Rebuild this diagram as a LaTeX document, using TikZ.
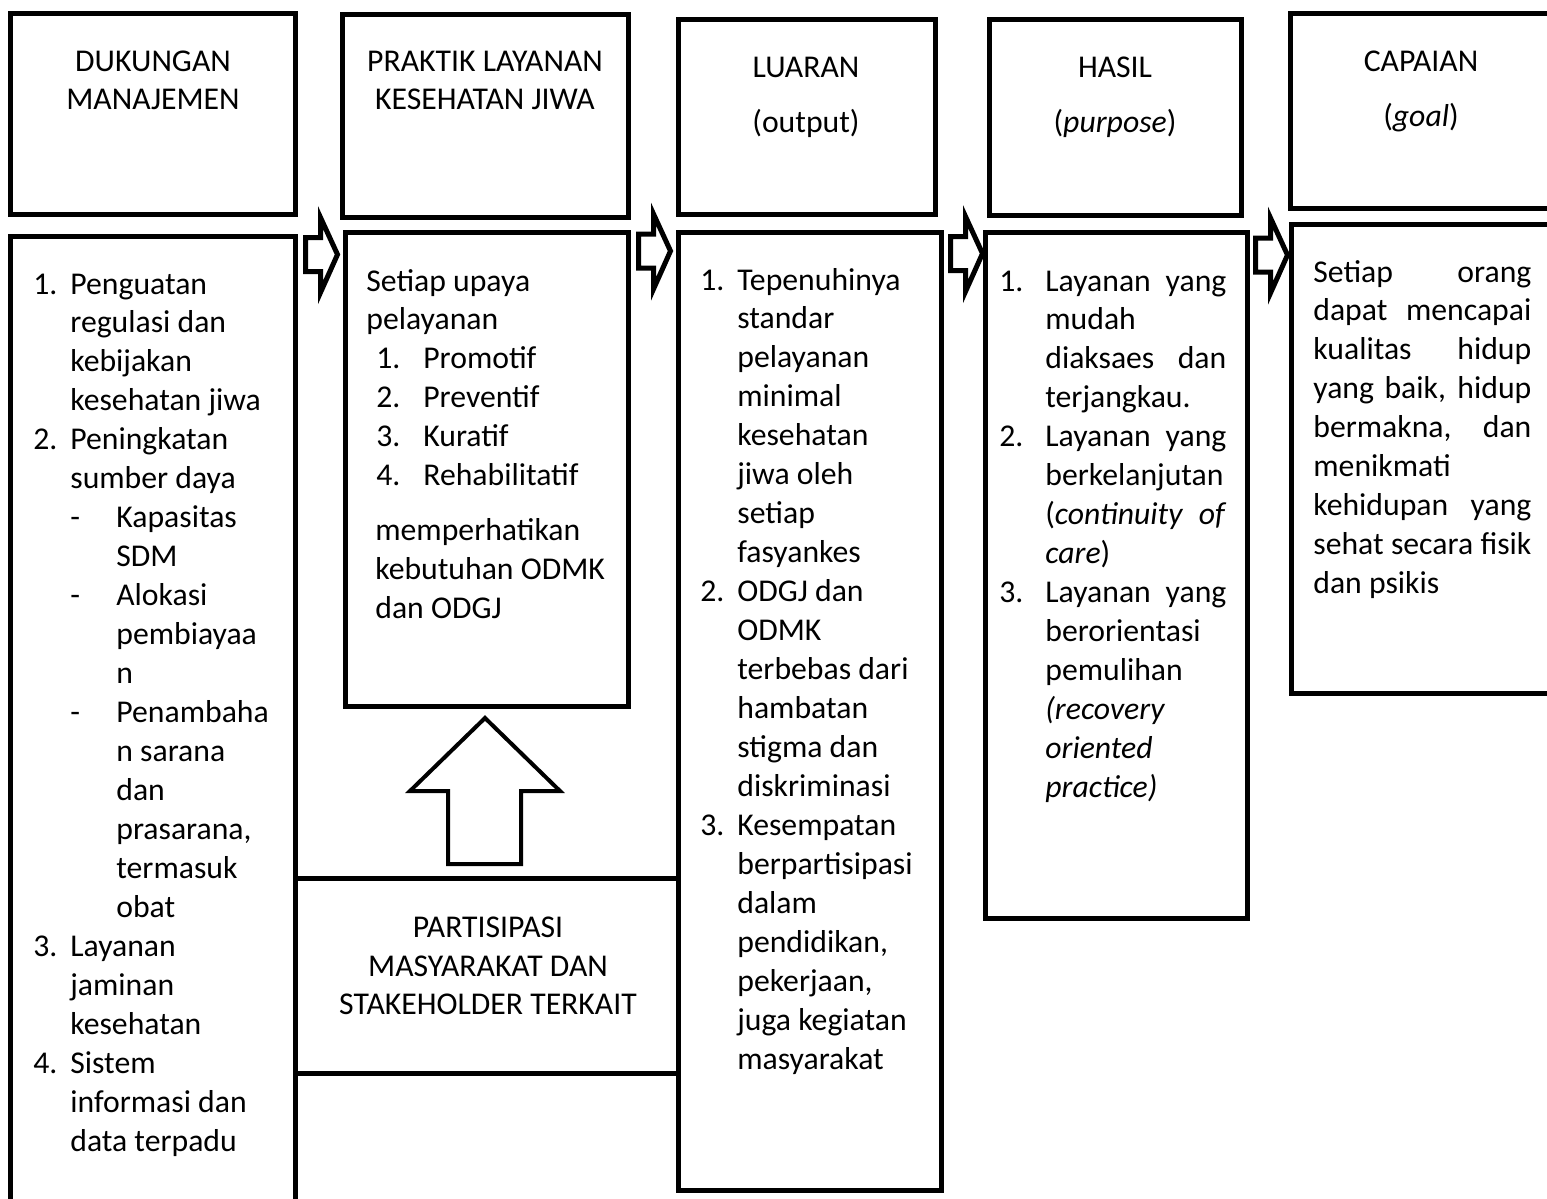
\documentclass[tikz,border=0pt]{standalone}
\usepackage{fontspec}
\setmainfont{Carlito}
\usetikzlibrary{fit}
\newlength{\pks}\setlength{\pks}{0.02cm}
\newcommand{\rata}[2]{\makebox[#1\pks][s]{#2}}
\newcommand{\teksfont}{\fontsize{18.05}{22.19}\selectfont}

\begin{document}
\begin{tikzpicture}[x=0.02cm, y=-0.02cm,
  kotak/.style={draw, line width=0.1cm, fill=white, inner sep=0pt},
  teks/.style={inner sep=0pt, font=\teksfont},
  garis/.style={draw, line width=0.1cm, fill=white}]
\newcommand{\blokpanah}[1]{\draw[garis] (#1) ++(0,-17) -- ++(15,0) -- ++(0,-20)
  -- ++(17,37) -- ++(-17,38) -- ++(0,-21) -- ++(-15,0) -- cycle;}
\useasboundingbox (0,0) rectangle (1547,1198);
\clip (0,0) rectangle (1547,1198);

% kotak judul
\node[kotak, fit={(10.7,13.5) (295,214.5)}] (dukungan) {};
\node[kotak, fit={(342.5,14.5) (628,217.5)}] (praktik) {};
\node[kotak, fit={(678,19.5) (935,214.5)}] (luaran) {};
\node[kotak, fit={(989,19) (1241,215)}] (hasil) {};
\node[kotak, fit={(1290,13.5) (1570,208)}] (capaian) {};

% kotak isi
\node[kotak, fit={(10.7,236) (295,1230)}] (isidukungan) {};
\node[kotak, fit={(345,232.5) (628,706)}] (isipraktik) {};
\node[kotak, fit={(678,232.5) (941,1190)}] (isiluaran) {};
\node[kotak, fit={(985.5,232.5) (1247,918)}] (isihasil) {};
\node[kotak, fit={(1291.5,224.5) (1570,693)}] (isicapaian) {};
\node[kotak, fit={(295,878.5) (678.5,1073.5)}] (partisipasi) {};

% judul
\node[teks, anchor=base] (jdukungan) at (153,71)
  {\begin{tabular}[t]{@{}c@{}}DUKUNGAN\\MANAJEMEN\end{tabular}};
\node[teks, anchor=base] (jpraktik) at (485,71)
  {\begin{tabular}[t]{@{}c@{}}PRAKTIK LAYANAN\\KESEHATAN JIWA\end{tabular}};
\node[teks, anchor=base] (jluaran) at (806,77)
  {\begin{tabular}[t]{@{}c@{}}LUARAN\\[17\pks](output)\end{tabular}};
\node[teks, anchor=base] (jhasil) at (1115,77)
  {\begin{tabular}[t]{@{}c@{}}HASIL\\[17\pks](\textit{purpose})\end{tabular}};
\node[teks, anchor=base] (jcapaian) at (1421,71)
  {\begin{tabular}[t]{@{}c@{}}CAPAIAN\\[17\pks](\textit{goal})\end{tabular}};
\node[teks, anchor=base] (jpartisipasi) at (488,937)
  {\begin{tabular}[t]{@{}c@{}}PARTISIPASI\\MASYARAKAT DAN\\STAKEHOLDER TERKAIT\end{tabular}};

% isi kolom 1
\node[teks, anchor=base west] (tdukungan) at (33,294)
  {\begin{tabular}[t]{@{}p{37\pks}@{}l@{}}
  1. & Penguatan\\
     & regulasi dan\\
     & kebijakan\\
     & kesehatan jiwa\\
  2. & Peningkatan\\
     & sumber daya\\
     & \makebox[46\pks][l]{-}Kapasitas\\
     & \hspace*{46\pks}SDM\\
     & \makebox[46\pks][l]{-}Alokasi\\
     & \hspace*{46\pks}pembiayaa\\
     & \hspace*{46\pks}n\\
     & \makebox[46\pks][l]{-}Penambaha\\
     & \hspace*{46\pks}n sarana\\
     & \hspace*{46\pks}dan\\
     & \hspace*{46\pks}prasarana,\\
     & \hspace*{46\pks}termasuk\\
     & \hspace*{46\pks}obat\\
  3. & Layanan\\
     & jaminan\\
     & kesehatan\\
  4. & Sistem\\
     & informasi dan\\
     & data terpadu
  \end{tabular}};

% isi kolom 2
\node[teks, anchor=base west] (tpraktik) at (366,291)
  {\begin{tabular}[t]{@{}l@{}}
  Setiap upaya\\
  pelayanan\\
  \hspace*{10\pks}\makebox[47\pks][l]{1.}Promotif\\
  \hspace*{10\pks}\makebox[47\pks][l]{2.}Preventif\\
  \hspace*{10\pks}\makebox[47\pks][l]{3.}Kuratif\\
  \hspace*{10\pks}\makebox[47\pks][l]{4.}Rehabilitatif\\[16\pks]
  \hspace*{9\pks}memperhatikan\\
  \hspace*{9\pks}kebutuhan ODMK\\
  \hspace*{9\pks}dan ODGJ
  \end{tabular}};

% isi kolom 3
\node[teks, anchor=base west] (tluaran) at (700,290)
  {\begin{tabular}[t]{@{}p{37\pks}@{}l@{}}
  1. & Tepenuhinya\\
     & standar\\
     & pelayanan\\
     & minimal\\
     & kesehatan\\
     & jiwa oleh\\
     & setiap\\
     & fasyankes\\
  2. & ODGJ dan\\
     & ODMK\\
     & terbebas dari\\
     & hambatan\\
     & stigma dan\\
     & diskriminasi\\
  3. & Kesempatan\\
     & berpartisipasi\\
     & dalam\\
     & pendidikan,\\
     & pekerjaan,\\
     & juga kegiatan\\
     & masyarakat
  \end{tabular}};

% isi kolom 4
\node[teks, anchor=base west] (thasil) at (999,291)
  {\begin{tabular}[t]{@{}p{46\pks}@{}l@{}}
  1. & \rata{181}{Layanan yang}\\
     & mudah\\
     & \rata{181}{diaksaes dan}\\
     & terjangkau.\\
  2. & \rata{181}{Layanan yang}\\
     & berkelanjutan\\
     & \rata{181}{(\textit{continuity of}}\\
     & \textit{care})\\
  3. & \rata{181}{Layanan yang}\\
     & berorientasi\\
     & pemulihan\\
     & \textit{(recovery}\\
     & \textit{oriented}\\
     & \textit{practice)}
  \end{tabular}};

% isi kolom 5
\node[teks, anchor=base west] (tcapaian) at (1313,282)
  {\begin{tabular}[t]{@{}l@{}}
  \rata{218}{Setiap orang}\\
  \rata{218}{dapat mencapai}\\
  \rata{218}{kualitas hidup}\\
  \rata{218}{yang baik, hidup}\\
  \rata{218}{bermakna, dan}\\
  menikmati\\
  \rata{218}{kehidupan yang}\\
  \rata{218}{sehat secara fisik}\\
  dan psikis
  \end{tabular}};

% panah
\coordinate (p1) at (305.5,254.5);
\coordinate (p2) at (638.5,251);
\coordinate (p3) at (950.5,253.5);
\coordinate (p4) at (1255.5,255);
\blokpanah{p1}
\blokpanah{p2}
\blokpanah{p3}
\blokpanah{p4}

\coordinate (ujung) at (485,718);
\draw[garis, line width=0.08cm] (ujung) -- (560,791) -- (521,791) -- (521,864)
  -- (448,864) -- (448,791) -- (410,791) -- cycle;
\end{tikzpicture}
\end{document}
